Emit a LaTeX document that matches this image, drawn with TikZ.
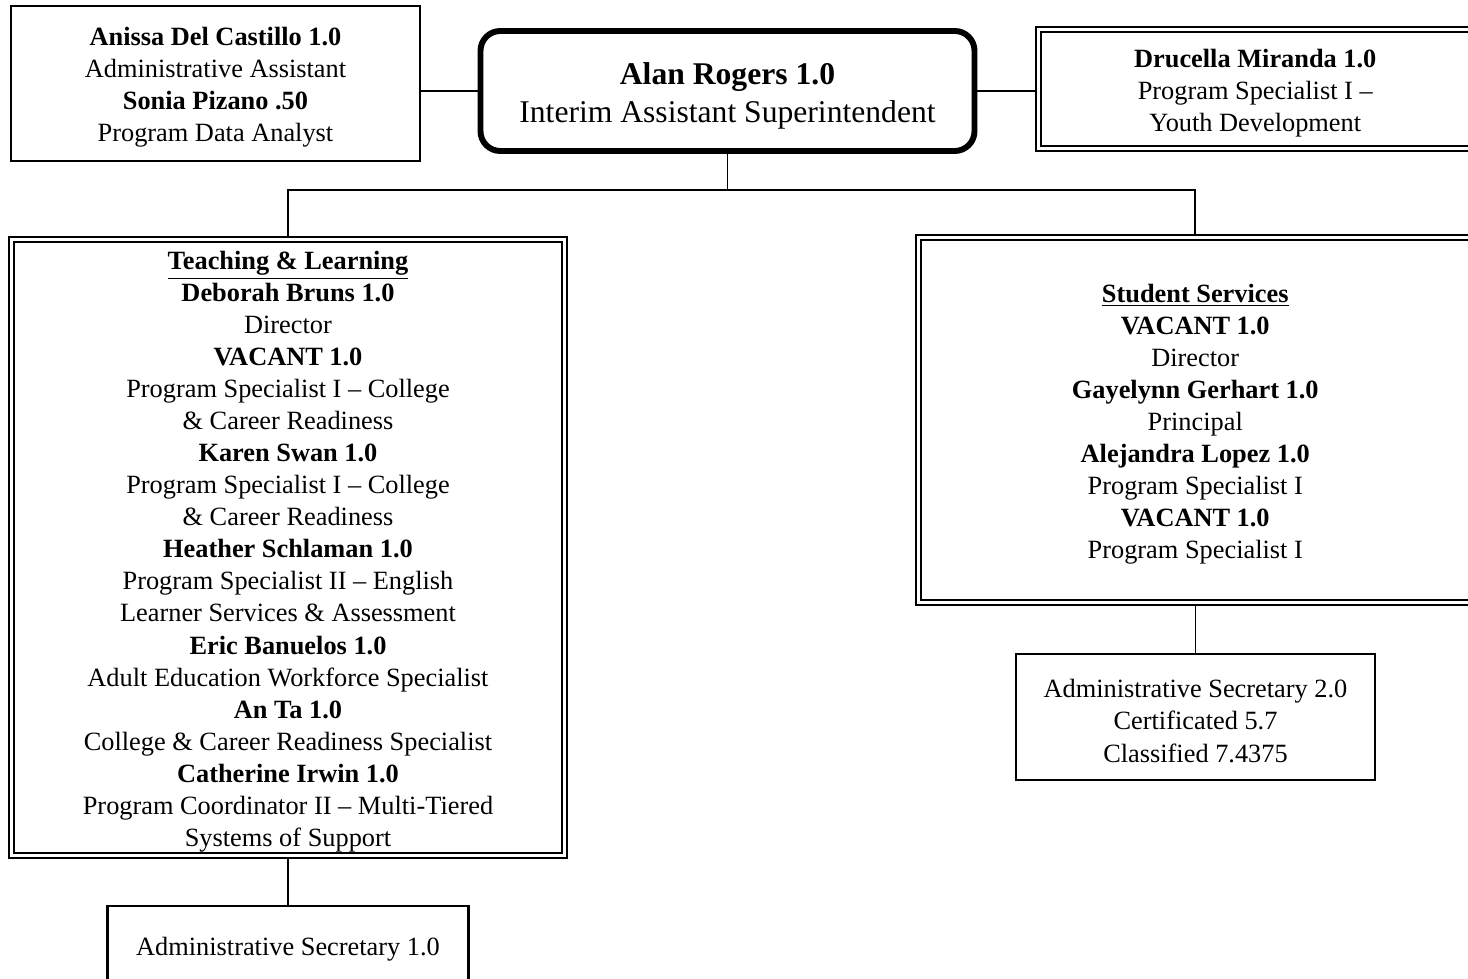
\documentclass[tikz,border=0pt]{standalone}
\usepackage{fontspec}
\setmainfont{Liberation Serif}
\newcommand{\topgap}{\rule{0pt}{1em}}
\tikzset{
	box/.style={draw, line width=1pt, align=center, inner sep=0pt, outer sep=0pt,
		font=\fontsize{12}{14.6}\selectfont},
	dblbox/.style={box, double, line width=1.1pt, double distance=1pt, outer sep=1.6pt},
	headbox/.style={box, line width=2.7pt, rounded corners=9pt, outer sep=1.35pt,
		font=\fontsize{14.4}{17.3}\selectfont},
	conn/.style={line width=0.8pt}
}
\begin{document}
\begin{tikzpicture}[x=0.016cm, y=-0.016cm]
		\useasboundingbox (0,0) rectangle (1468,979);
		\node[box, minimum width=409*0.016cm, minimum height=155*0.016cm] (asst) at (215.5,83.5)
			{\topgap\textbf{Anissa Del Castillo 1.0}\\ Administrative Assistant\\ \textbf{Sonia Pizano .50}\\ Program Data Analyst};
		\node[headbox, minimum width=494*0.016cm, minimum height=120*0.016cm] (rogers) at (727.5,91)
			{\topgap\textbf{Alan Rogers 1.0}\\ Interim Assistant Superintendent};
		\node[dblbox, minimum width=433.5*0.016cm, minimum height=119*0.016cm] (miranda) at (1255.25,89)
			{\topgap\textbf{Drucella Miranda 1.0}\\ Program Specialist I --\\ Youth Development};
		\node[dblbox, minimum width=553*0.016cm, minimum height=616*0.016cm] (teaching) at (288,547.5)
			{\topgap\underline{\textbf{Teaching \& Learning}}\\
			\textbf{Deborah Bruns 1.0}\\ Director\\
			\textbf{VACANT 1.0}\\ Program Specialist I -- College\\ \& Career Readiness\\
			\textbf{Karen Swan 1.0}\\ Program Specialist I -- College\\ \& Career Readiness\\
			\textbf{Heather Schlaman 1.0}\\ Program Specialist II -- English\\ Learner Services \& Assessment\\
			\textbf{Eric Banuelos 1.0}\\ Adult Education Workforce Specialist\\
			\textbf{An Ta 1.0}\\ College \& Career Readiness Specialist\\
			\textbf{Catherine Irwin 1.0}\\ Program Coordinator II -- Multi-Tiered\\ Systems of Support};
		\node[dblbox, minimum width=553.5*0.016cm, minimum height=365*0.016cm] (services) at (1195.25,420)
			{\topgap\underline{\textbf{Student Services}}\\
			\textbf{VACANT 1.0}\\ Director\\
			\textbf{Gayelynn Gerhart 1.0}\\ Principal\\
			\textbf{Alejandra Lopez 1.0}\\ Program Specialist I\\
			\textbf{VACANT 1.0}\\ Program Specialist I};
		\node[box, minimum width=361*0.016cm, minimum height=78*0.016cm] (sec1) at (288,945)
			{\topgap Administrative Secretary 1.0};
		\node[box, minimum width=359*0.016cm, minimum height=126*0.016cm] (sec2) at (1195.5,717)
			{\topgap Administrative Secretary 2.0\\ Certificated 5.7\\ Classified 7.4375};
		\coordinate (bus) at (727.5,190);
		\draw[conn] (asst.east |- rogers.west) -- (rogers.west);
		\draw[conn] (rogers.east) -- (miranda.west |- rogers.east);
		\draw[conn] (rogers.south) -- (bus);
		\draw[conn] (teaching.north) |- (bus) -| (services.north);
		\draw[conn] (teaching.south) -- (sec1.north);
		\draw[conn] (services.south -| sec2.north) -- (sec2.north);
\end{tikzpicture}
\end{document}
